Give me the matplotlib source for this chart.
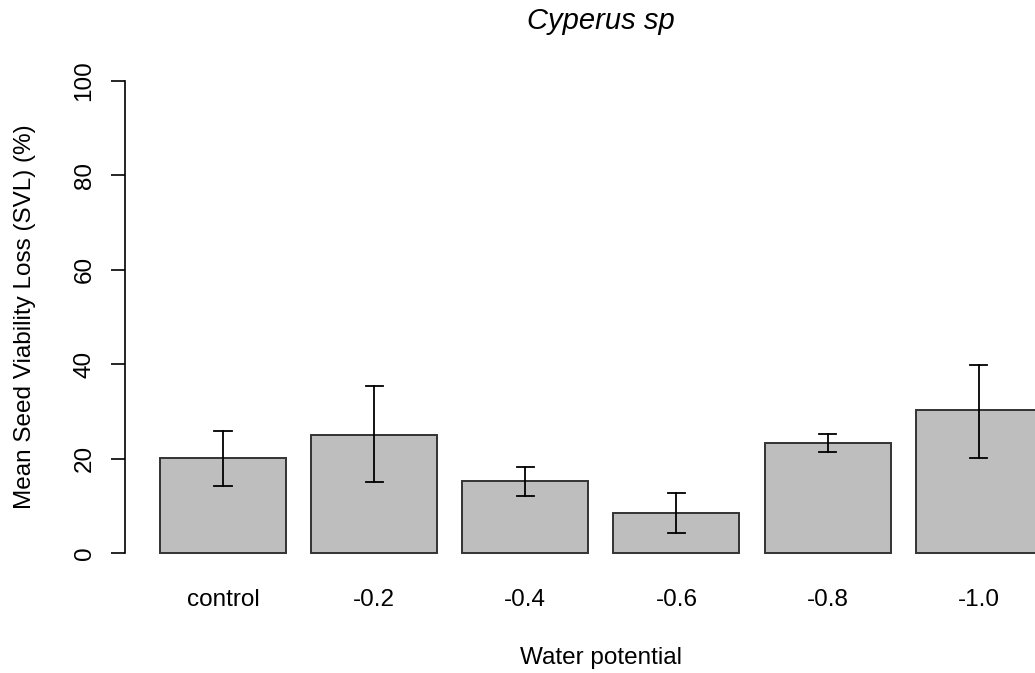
import matplotlib
matplotlib.use("Agg")
import matplotlib.pyplot as plt
import numpy as np

plt.rcParams['font.family'] = ['Liberation Sans', 'DejaVu Sans']

categories = ["control", "-0.2", "-0.4", "-0.6", "-0.8", "-1.0"]
means = [20.1, 25.0, 15.25, 8.5, 23.3, 30.3]
upper = [25.8, 35.4, 18.2, 12.7, 25.2, 39.8]
lower = [14.2, 15.0, 12.1, 4.2, 21.4, 20.1]
yticks = [0, 20, 40, 60, 80, 100]

W, H = 1035, 673
fs = 17.5
fig = plt.figure(figsize=(W / 100, H / 100), dpi=100)
# plot region in pixels (R-style, extends beyond right edge)
x0, x1 = 124.7, 1077.0
y0, y1 = 571.9, 62.1
ax = fig.add_axes([x0 / W, 1 - y0 / H, (x1 - x0) / W, (y0 - y1) / H])
ax.set_xlim(-0.08, 7.48)
ax.set_ylim(-4, 104)

centers = [0.7 + 1.2 * i for i in range(len(categories))]
ax.bar(centers, means, width=1.0, color="#BEBEBE", edgecolor="#333333", linewidth=1.4, zorder=2)
for c, lo, hi in zip(centers, lower, upper):
    ax.plot([c, c], [lo, hi], color="black", lw=1.3, zorder=3)
    for v in (lo, hi):
        ax.plot([c - 0.068, c + 0.068], [v, v], color="black", lw=1.3, zorder=3)

for s in ax.spines.values():
    s.set_visible(False)
ax.spines['left'].set_visible(True)
ax.spines['left'].set_bounds(0, 100)
ax.spines['left'].set_position(('data', -0.08))
ax.spines['left'].set_linewidth(1.2)
ax.set_yticks(yticks)
ax.set_yticklabels([str(v) for v in yticks], rotation=90, va='center', fontsize=fs)
ax.tick_params(axis='y', length=10, width=1.2, pad=11)
ax.set_xticks(centers)
ax.set_xticklabels(categories, fontsize=fs)
ax.tick_params(axis='x', length=0, pad=12)

fig.text(25 / W, 1 - 317 / H, "Mean Seed Viability Loss (SVL) (%)", rotation=90,
         ha='center', va='center', fontsize=fs)
fig.text(601 / W, 1 - 658 / H, "Water potential", ha='center', va='center', fontsize=fs)
fig.text(601 / W, 1 - 21 / H, "Cyperus sp", ha='center', va='center', fontsize=21, style='italic')

fig.savefig("out.png", dpi=100)
